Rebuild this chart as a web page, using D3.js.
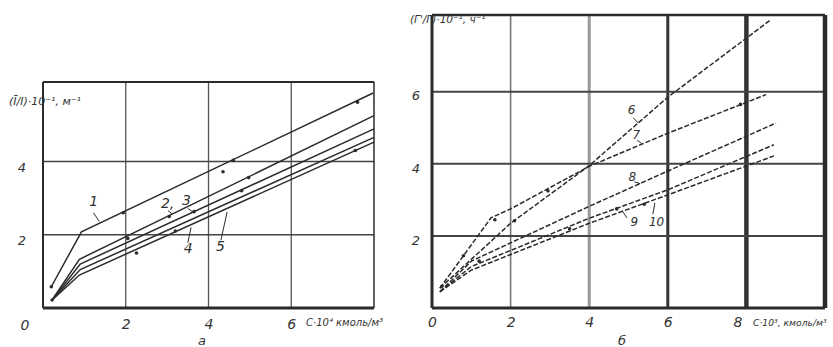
<!DOCTYPE html>
<html>
<head>
<meta charset="utf-8">
<script src="https://cdn.jsdelivr.net/npm/d3@7"></script>
<style>
  body { margin: 0; background: #fff; }
  svg text { font-family: 'DejaVu Sans', sans-serif; font-style: italic; fill: #333; }
</style>
</head>
<body>
<div id="chart-area"></div>
<script>
// ########################################
// DATA
// ########################################

// panel a: x = C*10^4 kmol/m3, y = (I/I)*10^-1 1/m
const ticksXA = [2, 4, 6];
const ticksYA = [2, 4];
const curveA1 = [[0.2, 0.58], [0.93, 2.08], [7.98, 5.87]];
const curveA2 = [[0.22, 0.22], [0.88, 1.33], [8.0, 5.25]];
const curveA3 = [[0.22, 0.22], [0.9, 1.2], [8.0, 4.89]];
const curveA4 = [[0.22, 0.22], [0.9, 1.05], [8.0, 4.66]];
const curveA5 = [[0.22, 0.22], [0.88, 0.9], [8.0, 4.53]];
const pointsA = [[0.2, 0.58], [1.94, 2.6], [4.6, 4.03], [4.35, 3.72], [7.6, 5.62],
  [0.22, 0.22], [2.05, 1.9], [3.05, 2.5], [4.97, 3.56], [3.65, 2.63],
  [4.8, 3.2], [7.55, 4.3], [2.26, 1.5], [3.2, 2.1]];
const namesA = ['1', '2', '3', '4', '5'];

// panel b: x = C*10^3 kmol/m3, y = (Г'/Г)*10^-1 1/h
const ticksXB = [0, 2, 4, 6, 8];
const ticksYB = [2, 4, 6];
const curveB6 = [[0.2, 0.55], [2, 2.35], [4, 3.95], [6, 5.85], [8.6, 7.98]];
const curveB7 = [[0.2, 0.55], [1.5, 2.5], [2, 2.75], [4, 3.93], [6, 4.85], [8.5, 5.92]];
const curveB8 = [[0.2, 0.45], [1, 1.3], [4, 2.82], [6, 3.8], [8.75, 5.13]];
const curveB9 = [[0.2, 0.45], [1, 1.15], [4, 2.49], [6, 3.28], [8.7, 4.53]];
const curveB10 = [[0.2, 0.45], [1, 1.05], [4, 2.35], [6, 3.14], [8.7, 4.22]];
const pointsB = [[0.25, 0.6], [0.8, 1.45], [1.6, 2.45], [2.1, 2.42], [2.95, 3.25],
  [7.85, 5.65], [4.7, 2.75], [5.4, 2.88], [3.5, 2.2], [6.0, 3.8], [1.2, 1.3]];
const namesB = ['6', '7', '8', '9', '10'];

// curve labels: text position + leader (data units)
const labelsA = [
  { t: namesA[0], x: 1.12, y: 2.78, l: [[1.22, 2.6], [1.36, 2.36]] },
  { t: namesA[1] + ',', x: 2.85, y: 2.72, l: [[3.02, 2.66], [3.12, 2.57]] },
  { t: namesA[2], x: 3.36, y: 2.82, l: [[3.5, 2.72], [3.62, 2.62]] },
  { t: namesA[3], x: 3.4, y: 1.5, l: [[3.5, 1.78], [3.58, 2.2]] },
  { t: namesA[4], x: 4.18, y: 1.55, l: [[4.3, 1.85], [4.45, 2.62]] }
];
const labelsB = [
  { t: namesB[0], x: 4.98, y: 5.38, l: [[5.12, 5.28], [5.25, 5.13]] },
  { t: namesB[1], x: 5.1, y: 4.7, l: [[5.22, 4.66], [5.35, 4.55]] },
  { t: namesB[2], x: 5.0, y: 3.53, l: [[5.15, 3.5], [5.3, 3.45]] },
  { t: namesB[3], x: 5.05, y: 2.28, l: [[4.96, 2.5], [4.85, 2.68]] },
  { t: namesB[4], x: 5.52, y: 2.28, l: [[5.62, 2.6], [5.67, 2.92]] }
];

// ########################################
// SVG + SCALES
// ########################################

const svg = d3.select('#chart-area')
  .append('svg')
  .attr('width', 833)
  .attr('height', 347);

const xA = d3.scaleLinear().domain([0, 8]).range([43, 374]);
const yA = d3.scaleLinear().domain([0, 6.17]).range([308, 82]);
const xB = d3.scaleLinear().domain([0, 10]).range([432, 825]);
const yB = d3.scaleLinear().domain([0, 8.13]).range([308, 15]);

const ink = '#2b2b2b';
const fmt = d3.format('d');

// ########################################
// GRIDS + FRAMES
// ########################################

function grid(x, y, xs, ys, vWidth, hWidth, vColor) {
  const g = svg.append('g');
  g.selectAll('line.v').data(xs).enter().append('line')
    .attr('x1', d => x(d)).attr('x2', d => x(d))
    .attr('y1', y.range()[0]).attr('y2', y.range()[1])
    .attr('stroke', (d, i) => vColor[i])
    .attr('stroke-width', (d, i) => vWidth[i]);
  g.selectAll('line.h').data(ys).enter().append('line')
    .attr('x1', x.range()[0]).attr('x2', x.range()[1])
    .attr('y1', d => y(d)).attr('y2', d => y(d))
    .attr('stroke', '#444')
    .attr('stroke-width', hWidth);
  return g;
}

grid(xA, yA, [2, 4, 6], ticksYA, [1.3, 1.3, 1.3], 1.5, ['#555', '#555', '#555']);
grid(xB, yB, [2, 4, 6, 8], ticksYB, [1.6, 3, 3, 4.5], 2, ['#777', '#999', '#333', '#333']);

function frame(x, y, w) {
  const [x0, x1] = x.range();
  const [y0, y1] = y.range();
  const g = svg.append('g').attr('stroke', ink);
  g.append('line').attr('x1', x0).attr('x2', x1).attr('y1', y1).attr('y2', y1).attr('stroke-width', w[0]);
  g.append('line').attr('x1', x1).attr('x2', x1).attr('y1', y1).attr('y2', y0).attr('stroke-width', w[1]);
  g.append('line').attr('x1', x0).attr('x2', x1).attr('y1', y0).attr('y2', y0).attr('stroke-width', w[2]);
  g.append('line').attr('x1', x0).attr('x2', x0).attr('y1', y1).attr('y2', y0).attr('stroke-width', w[3]);
}

frame(xA, yA, [2, 1.5, 3, 2]);
frame(xB, yB, [2.5, 4.5, 3, 3]);

// ########################################
// AXES (labels only, no ticks)
// ########################################

svg.append('g')
  .attr('transform', 'translate(0, ' + yA.range()[0] + ')')
  .call(d3.axisBottom(xA).tickValues(ticksXA).tickFormat(fmt).tickSize(0).tickPadding(11))
  .call(g => g.select('.domain').remove())
  .selectAll('text').attr('font-size', 14).attr('font-family', null);

svg.append('g')
  .attr('transform', 'translate(' + xA.range()[0] + ', 6)')
  .call(d3.axisLeft(yA).tickValues(ticksYA).tickFormat(fmt).tickSize(0).tickPadding(17))
  .call(g => g.select('.domain').remove())
  .selectAll('text').attr('font-size', 13).attr('font-family', null);

svg.append('g')
  .attr('transform', 'translate(0, ' + yB.range()[0] + ')')
  .call(d3.axisBottom(xB).tickValues(ticksXB).tickFormat(fmt).tickSize(0).tickPadding(9))
  .call(g => g.select('.domain').remove())
  .selectAll('text').attr('font-size', 14).attr('font-family', null)
  // the last label is written left of its gridline to clear the unit text
  .attr('dx', d => d === 8 ? -9 : 0);

svg.append('g')
  .attr('transform', 'translate(' + xB.range()[0] + ', 4)')
  .call(d3.axisLeft(yB).tickValues(ticksYB).tickFormat(fmt).tickSize(0).tickPadding(12))
  .call(g => g.select('.domain').remove())
  .selectAll('text').attr('font-size', 13).attr('font-family', null);

// origin "0" for panel a sits left of the corner
svg.append('text').attr('x', 25).attr('y', 330)
  .attr('text-anchor', 'middle').attr('font-size', 14).text('0');

// axis titles
svg.append('text').attr('x', 9).attr('y', 105).attr('font-size', 11).text('(Ī/I)·10⁻¹, м⁻¹');
svg.append('text').attr('x', 306).attr('y', 326).attr('font-size', 10).text('C·10⁴ кмоль/м³');
svg.append('text').attr('x', 410).attr('y', 23).attr('font-size', 10.5).text("(Г'/Г)·10⁻¹, ч⁻¹");
svg.append('text').attr('x', 753).attr('y', 326).attr('font-size', 9.2).text('С·10³, кмоль/м³');
svg.append('text').attr('x', 202).attr('y', 345).attr('text-anchor', 'middle').attr('font-size', 13).text('а');
svg.append('text').attr('x', 622).attr('y', 345).attr('text-anchor', 'middle').attr('font-size', 13).text('б');

// ########################################
// CURVES
// ########################################

function curves(x, y, list, dash) {
  const line = d3.line().x(d => x(d[0])).y(d => y(d[1]));
  svg.append('g').selectAll('path').data(list).enter().append('path')
    .attr('d', line)
    .attr('fill', 'none')
    .attr('stroke', ink)
    .attr('stroke-width', 1.5)
    .attr('stroke-dasharray', dash);
}

curves(xA, yA, [curveA1, curveA2, curveA3, curveA4, curveA5], null);
curves(xB, yB, [curveB6, curveB7, curveB8, curveB9, curveB10], '5,2');

function points(x, y, pts) {
  svg.append('g').selectAll('circle').data(pts).enter().append('circle')
    .attr('cx', d => x(d[0]))
    .attr('cy', d => y(d[1]))
    .attr('r', 1.8)
    .attr('fill', ink);
}

points(xA, yA, pointsA);
points(xB, yB, pointsB);

// ########################################
// CURVE LABELS + LEADERS
// ########################################

function labels(x, y, list, size) {
  const g = svg.append('g');
  g.selectAll('text').data(list).enter().append('text')
    .attr('x', d => x(d.x))
    .attr('y', d => y(d.y))
    .attr('font-size', size)
    .text(d => d.t);
  g.selectAll('line').data(list).enter().append('line')
    .attr('x1', d => x(d.l[0][0])).attr('y1', d => y(d.l[0][1]))
    .attr('x2', d => x(d.l[1][0])).attr('y2', d => y(d.l[1][1]))
    .attr('stroke', ink)
    .attr('stroke-width', 1);
}

labels(xA, yA, labelsA, 14);
labels(xB, yB, labelsB, 12);
</script>
</body>
</html>
